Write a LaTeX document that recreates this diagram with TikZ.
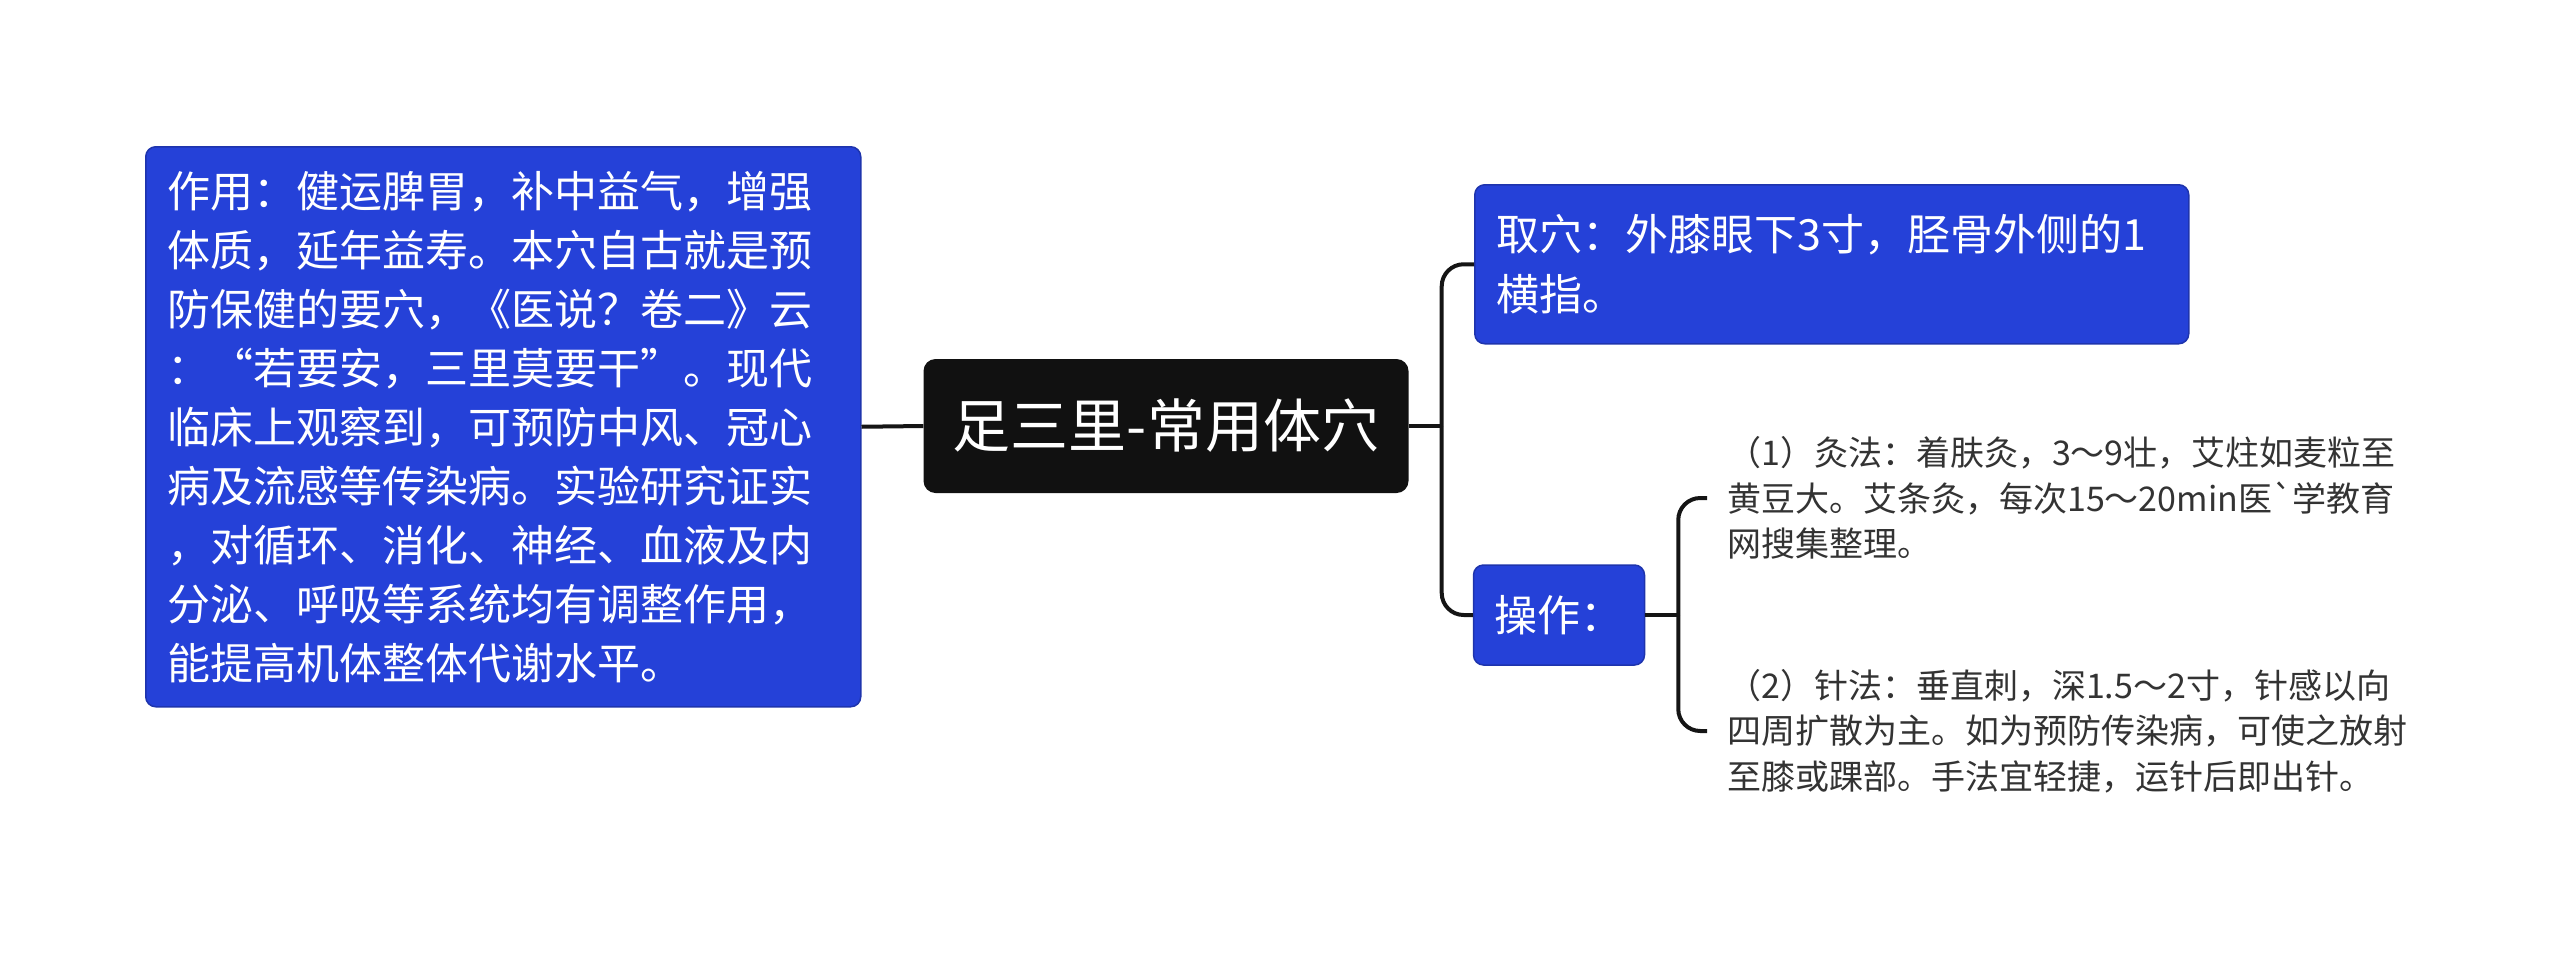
\documentclass[tikz,border=0pt]{standalone}
\usepackage{fontspec}
\newfontfamily\cjkfont{Noto Sans CJK SC}[Ligatures=TeXOff]
\definecolor{mmblue}{HTML}{2541D8}
\definecolor{mmhub}{HTML}{111111}
\definecolor{mmline}{HTML}{151515}
\definecolor{mmtext}{HTML}{333333}
\usetikzlibrary{positioning, calc}

\begin{document}
\begin{tikzpicture}[x=1pt, y=-1pt, every node/.style={font=\cjkfont},
    topic/.style={fill=mmblue, draw=mmblue!80!black, line width=1.5pt, rounded corners=10pt, text=white, align=left, inner xsep=22pt, font=\cjkfont\fontsize{43}{59}\selectfont},
    leaf/.style={text=mmtext, align=left, inner xsep=20pt, inner ysep=0pt, font=\cjkfont\fontsize{34}{45.7}\selectfont},
    link/.style={draw=mmline, line width=4pt, rounded corners=22pt}]
  \useasboundingbox (0,0) rectangle (2560,959);
  % central topic and the note on the left
  \node[fill=mmhub, rounded corners=12pt, text=white, minimum width=485pt, minimum height=134pt, font=\cjkfont\fontsize{58}{70}\selectfont] (hub) at (1166,426) {足三里-常用体穴};
  \node[topic, anchor=north west, text width=671pt, minimum height=560pt] (use) at (145,146) {作用：健运脾胃，补中益气，增强\\体质，延年益寿。本穴自古就是预\\防保健的要穴，《医说？卷二》云\\：“若要安，三里莫要干”。现代\\临床上观察到，可预防中风、冠心\\病及流感等传染病。实验研究证实\\，对循环、消化、神经、血液及内\\分泌、呼吸等系统均有调整作用，\\能提高机体整体代谢水平。};
  % right branches
  \node[topic, anchor=north west, text width=670pt, minimum height=159pt, font=\cjkfont\fontsize{43}{60}\selectfont] (qu) at (1474,184) {取穴：外膝眼下3寸，胫骨外侧的1\\横指。};
  \node[topic, inner xsep=21pt, minimum height=100pt] (op) at (1559,615) {操作：};
  \node[leaf, anchor=west] (moxa) at (1707,498) {（1）灸法：着肤灸，3～9壮，艾炷如麦粒至\\黄豆大。艾条灸，每次15～20min医`学教育\\网搜集整理。};
  \node[leaf, anchor=west] (needle) at (1707,731) {（2）针法：垂直刺，深1.5～2寸，针感以向\\四周扩散为主。如为预防传染病，可使之放射\\至膝或踝部。手法宜轻捷，运针后即出针。};
  % connectors
  \coordinate (hubfork) at ($(hub.east)+(33,0)$);
  \coordinate (opfork) at ($(op.east)+(33,0)$);
  \draw[link] (use.east) -- (hub.west);
  \draw[link] (hub.east) -- (hubfork);
  \draw[link] (hubfork) |- (qu.west);
  \draw[link] (hubfork) |- (op.west);
  \draw[link] (op.east) -- (opfork);
  \draw[link] (opfork) |- (moxa.west);
  \draw[link] (opfork) |- (needle.west);
\end{tikzpicture}
\end{document}
